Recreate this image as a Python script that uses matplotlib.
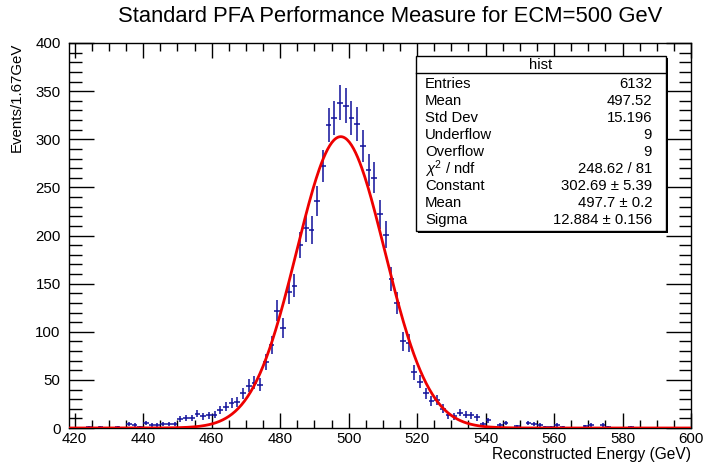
import numpy as np
import matplotlib
matplotlib.use("Agg")
import matplotlib.pyplot as plt
from matplotlib.patches import Rectangle
from matplotlib.ticker import MultipleLocator

plt.rcParams['font.family'] = ['Liberation Sans', 'DejaVu Sans']
plt.rcParams['mathtext.fontset'] = 'custom'
plt.rcParams['mathtext.rm'] = 'Liberation Sans'
plt.rcParams['mathtext.it'] = 'Liberation Sans:italic'

# histogram definition (1.67 GeV bins)
x_min = 418.33
x_max = 600.0
n_bins = 109

# bin contents, bin 0 starts at x_min
counts = [0, 0, 0, 1, 0, 1, 0, 0, 1, 0,
          4, 3, 1, 5, 3, 3, 4, 4, 4, 9,
          10, 10, 15, 12, 13, 14, 19, 22, 26, 27,
          36, 44, 47, 45, 69, 86, 122, 104, 141, 148,
          190, 208, 206, 236, 272, 315, 322, 338, 335, 322,
          316, 293, 268, 260, 222, 201, 155, 130, 90, 88,
          58, 48, 36, 28, 29, 20, 13, 12, 16, 14,
          13, 11, 4, 8, 0, 3, 5, 0, 2, 0,
          5, 4, 3, 1, 1, 3, 1, 0, 0, 0,
          2, 3, 0, 3, 1, 0, 0, 0, 1, 0,
          0, 0, 0, 0, 0, 0, 0, 0, 0]

# gaussian fit result (from stats box)
fit_const = 302.69
fit_mean = 497.7
fit_sigma = 12.884

stat_names = ["Entries", "Mean", "Std Dev", "Underflow", "Overflow",
              r"$\chi^{2}$ / ndf", "Constant", "Mean", "Sigma"]
stat_values = ["6132", "497.52", "15.196", "9", "9",
               "248.62 / 81", "302.69 \u00b1 5.39", "497.7 \u00b1 0.2",
               "12.884 \u00b1 0.156"]

W, H = 705, 462
fig = plt.figure(figsize=(W / 100, H / 100), dpi=100)
ax = fig.add_axes([69 / W, 34 / H, 622 / W, 385 / H])

edges = np.linspace(x_min, x_max, n_bins + 1)
centers = 0.5 * (edges[:-1] + edges[1:])
half_w = 0.5 * (edges[1] - edges[0])
counts = np.array(counts, dtype=float)
nz = counts > 0

ax.errorbar(centers[nz], counts[nz], xerr=half_w, yerr=np.sqrt(counts[nz]),
            fmt='none', ecolor='#10109a', elinewidth=1.1, capsize=0, zorder=3)

xf = np.linspace(x_min, x_max, 600)
ax.plot(xf, fit_const * np.exp(-0.5 * ((xf - fit_mean) / fit_sigma) ** 2),
        color='#ee0000', lw=2.0, zorder=4)

ax.set_xlim(x_min, x_max)
ax.set_ylim(0, 400)
ax.xaxis.set_major_locator(MultipleLocator(20))
ax.xaxis.set_minor_locator(MultipleLocator(5))
ax.yaxis.set_major_locator(MultipleLocator(50))
ax.yaxis.set_minor_locator(MultipleLocator(10))
ax.set_xticks(np.arange(420, 601, 20))
ax.tick_params(axis='both', which='both', direction='in', top=True, right=True,
               width=1, labelsize=10.8, colors='black')
ax.tick_params(axis='x', which='major', length=11, pad=3)
ax.tick_params(axis='x', which='minor', length=5.5)
ax.tick_params(axis='y', which='major', length=18, pad=6)
ax.tick_params(axis='y', which='minor', length=9)
for s in ax.spines.values():
    s.set_linewidth(1)

fig.text(390 / W, 1 - 17 / H, "Standard PFA Performance Measure for ECM=500 GeV",
         ha='center', va='center', fontsize=15.8)
fig.text(691 / W, 1 - 454 / H, "Reconstructed Energy (GeV)",
         ha='right', va='center', fontsize=11.2)
fig.text(17 / W, 1 - 43 / H, "Events/1.67GeV", rotation=90,
         ha='center', va='top', fontsize=10.8)

# stats box
bx0, bx1, by_top, by_bot = 416, 666, 56, 231
shadow = Rectangle(((bx0 + 2) / W, 1 - (by_bot + 2) / H), (bx1 - bx0) / W,
                   (by_bot - by_top) / H, transform=fig.transFigure,
                   facecolor='black', edgecolor='black', lw=0, zorder=5)
box = Rectangle((bx0 / W, 1 - by_bot / H), (bx1 - bx0) / W, (by_bot - by_top) / H,
                transform=fig.transFigure, facecolor='white', edgecolor='black',
                lw=1, zorder=6)
fig.patches.extend([shadow, box])
fig.add_artist(plt.Line2D([bx0 / W, bx1 / W], [1 - 73 / H, 1 - 73 / H],
                          transform=fig.transFigure, color='black', lw=1, zorder=7))
fig.text((bx0 + bx1) / 2 / W, 1 - 65 / H, "hist", ha='center', va='center',
         fontsize=10.7, zorder=8)
for i, (name, val) in enumerate(zip(stat_names, stat_values)):
    yy = 1 - (83.5 + 17.1 * i) / H
    fig.text(425 / W, yy, name, ha='left', va='center', fontsize=10.7, zorder=8)
    fig.text(652 / W, yy, val, ha='right', va='center', fontsize=10.7, zorder=8)

fig.savefig("out.png", dpi=100)
